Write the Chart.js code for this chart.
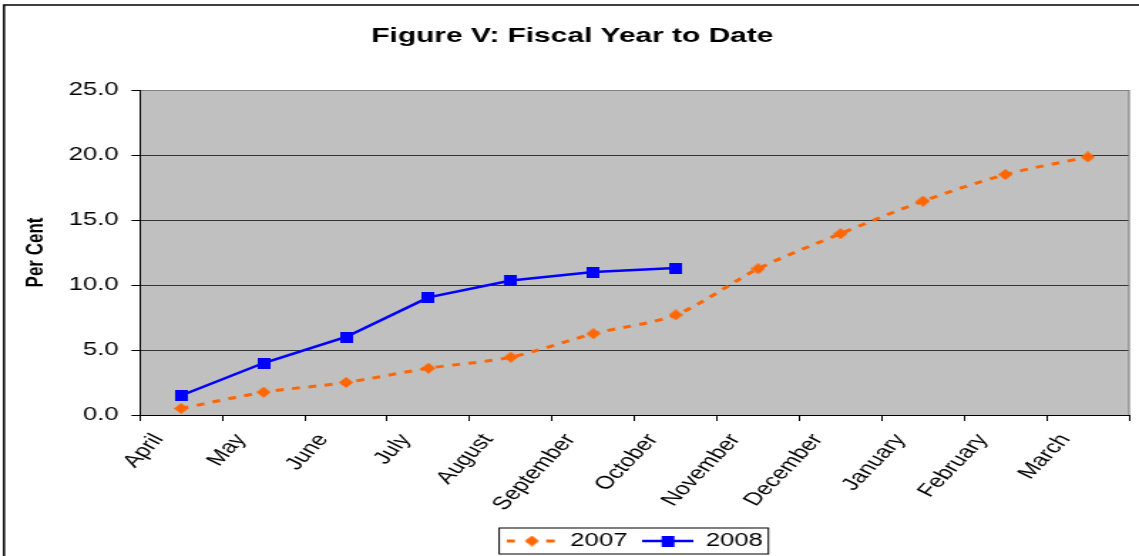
<!DOCTYPE html>
<html>
<head>
<meta charset="utf-8">
<script src="https://cdn.jsdelivr.net/npm/chart.js@4.4.1/dist/chart.umd.min.js"></script>
<style>
  html, body { margin: 0; padding: 0; background: #fff; overflow: hidden; }
  /* the original picture is stretched sideways, so draw narrow and widen */
  #wrap { width: 800px; height: 556px; transform: scaleX(1.42375); transform-origin: 0 0; }
</style>
</head>
<body>
<div id="wrap"><canvas id="fiscalChart"></canvas></div>
<script>
const months = ["April", "May", "June", "July", "August", "September", "October",
  "November", "December", "January", "February", "March"];
const fy2007 = [0.5, 1.75, 2.5, 3.6, 4.45, 6.25, 7.7, 11.25, 13.95, 16.45, 18.5, 19.85];
const fy2008 = [1.5, 4.0, 6.0, 9.05, 10.35, 11.0, 11.3];
const yMin = 0, yMax = 25, yStep = 5;

const font = "'Liberation Sans', Arial, sans-serif";
const orange = "#FF6600";
const blue = "#0000FF";

const makeMarker = (w, h, color, shape) => {
  const c = document.createElement("canvas");
  c.width = w; c.height = h;
  const g = c.getContext("2d");
  g.fillStyle = color;
  if (shape === "diamond") {
    g.beginPath();
    g.moveTo(w / 2, 0); g.lineTo(w, h / 2); g.lineTo(w / 2, h); g.lineTo(0, h / 2);
    g.closePath(); g.fill();
  } else {
    g.fillRect(0, 0, w, h);
  }
  return c;
};

const makeSample = (color, width, dash, marker) => {
  const c = document.createElement("canvas");
  c.width = 36; c.height = 12;
  const g = c.getContext("2d");
  g.strokeStyle = color; g.lineWidth = width; g.setLineDash(dash);
  g.beginPath(); g.moveTo(0, 6); g.lineTo(36, 6); g.stroke();
  g.drawImage(marker, 18 - marker.width / 2, 6 - marker.height / 2);
  return c;
};

const diamond = makeMarker(10, 11, orange, "diamond");
const square = makeMarker(9, 11, blue, "rect");
const samples = [makeSample(orange, 3, [6, 8], diamond), makeSample(blue, 2.5, [], square)];

const framePlugin = {
  id: "frame",
  beforeDraw(chart) {
    const { ctx, chartArea: a } = chart;
    ctx.save();
    ctx.fillStyle = "#C0C0C0";
    ctx.fillRect(a.left, a.top, a.right - a.left, a.bottom - a.top);
    // outer border of the picture (left and top only are visible)
    ctx.strokeStyle = "#000";
    ctx.lineWidth = 1.5;
    ctx.beginPath();
    ctx.moveTo(2.8, chart.height + 5); ctx.lineTo(2.8, 5); ctx.lineTo(chart.width + 5, 5);
    ctx.stroke();
    ctx.restore();

    // centre the legend under the plot
    const lg = chart.legend;
    const h = lg.bottom - lg.top;
    lg.left = a.left; lg.right = a.right;
    lg.top = 522; lg.bottom = 522 + h;
  },
  beforeDatasetsDraw(chart) {
    const { ctx, chartArea: a } = chart;
    ctx.save();
    ctx.strokeStyle = "#808080";
    ctx.lineWidth = 1.2;
    ctx.beginPath();
    ctx.moveTo(a.right, a.bottom); ctx.lineTo(a.right, a.top);
    ctx.stroke();
    ctx.restore();
  },
  afterDraw(chart) {
    const lg = chart.legend;
    const pad = lg.options.labels.padding;
    const size = lg.options.labels.font.size;
    const lineW = lg.lineWidths[0];
    const x0 = (lg.left + pad + lg.right - lineW) / 2;
    const mid = lg.top + pad + size / 2;
    const { ctx } = chart;
    ctx.save();
    ctx.strokeStyle = "#000";
    ctx.lineWidth = 1;
    ctx.strokeRect(x0 - 5, mid - 13, lineW - pad + 9, 26);
    ctx.restore();
  }
};

new Chart(document.getElementById("fiscalChart"), {
  type: "line",
  data: {
    labels: months,
    datasets: [
      {
        label: "2007",
        data: fy2007,
        borderColor: orange,
        backgroundColor: orange,
        borderWidth: 3,
        borderDash: [5.5, 6],
        tension: 0.3,
        pointStyle: diamond,
        fill: false,
      },
      {
        label: "2008",
        data: fy2008,
        borderColor: blue,
        backgroundColor: blue,
        borderWidth: 2.5,
        tension: 0,
        pointStyle: square,
        fill: false,
      },
    ],
  },
  options: {
    responsive: true,
    maintainAspectRatio: false,
    animation: false,
    layout: { padding: { left: 11, right: 7, top: 0, bottom: 0 } },
    plugins: {
      title: {
        display: true,
        text: "Figure V: Fiscal Year to Date",
        color: "#000",
        font: { family: font, size: 21, weight: "bold" },
        padding: { top: 24, bottom: 40.8 },
      },
      legend: {
        position: "bottom",
        labels: {
          usePointStyle: true,
          pointStyleWidth: 36,
          color: "#000",
          padding: 10,
          font: { family: font, size: 18 },
          generateLabels: (chart) => chart.data.datasets.map((ds, i) => ({
            text: ds.label,
            pointStyle: samples[i],
            datasetIndex: i,
            fillStyle: ds.borderColor,
            strokeStyle: ds.borderColor,
            lineWidth: 0,
            hidden: false,
          })),
        },
      },
      tooltip: { enabled: false },
    },
    scales: {
      x: {
        offset: true,
        grid: { offset: true, drawOnChartArea: false, drawTicks: true, tickLength: 6, tickColor: "#000" },
        border: { color: "#000", width: 1 },
        ticks: {
          color: "#000",
          font: { family: font, size: 18 },
          minRotation: 55,
          maxRotation: 55,
          autoSkip: false,
          padding: 9,
          labelOffset: -16,
        },
        afterFit: (s) => { s.height = 103; },
      },
      y: {
        min: yMin,
        max: yMax,
        grid: {
          color: (c) => (c.tick && c.tick.value === yMax ? "#808080" : "#333333"),
          lineWidth: 1,
          tickLength: 6,
          tickColor: "#000",
        },
        border: { color: "#000", width: 1 },
        ticks: {
          stepSize: yStep,
          color: "#000",
          padding: 9,
          font: { family: font, size: 18 },
          callback: (v) => v.toFixed(1),
        },
        title: {
          display: true,
          text: "Per Cent",
          color: "#000",
          font: { family: font, size: 17, weight: "bold" },
        },
        afterFit: (s) => { s.width = 87.3; },
      },
    },
  },
  plugins: [framePlugin],
});
</script>
</body>
</html>
